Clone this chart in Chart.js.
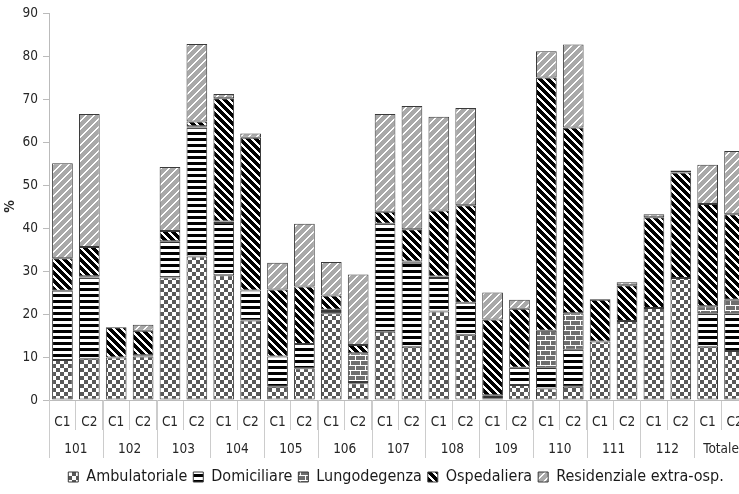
<!DOCTYPE html>
<html>
<head>
<meta charset="utf-8">
<script src="https://cdn.jsdelivr.net/npm/chart.js@4"></script>
<style>
  html, body { margin: 0; padding: 0; background: #fff; overflow: hidden; }
  #wrap { width: 739px; height: 494px; overflow: hidden; }
</style>
</head>
<body>
<div id="wrap"><canvas id="chart" width="760" height="494"></canvas></div>
<script>
// categories
var groups = ['101', '102', '103', '104', '105', '106', '107', '108', '109', '110', '111', '112', 'Totale'];
var cycles = ['C1', 'C2'];
var yTicks = [0, 10, 20, 30, 40, 50, 60, 70, 80, 90];

// series values (%), one per bar: 101 C1, 101 C2, 102 C1, ...
var ambulatoriale = [9.3, 9.6, 9.9, 10.1, 28.5, 33.4, 29.0, 18.5, 3.1, 7.4, 20.2, 3.9, 15.9, 12.4, 20.6, 15.2, 0.3, 3.5, 2.7, 3.1, 13.6, 18.4, 21.4, 28.4, 12.4, 11.4];
var domiciliare   = [16.1, 18.9, 0, 0.3, 8.4, 30.0, 12.2, 7.0, 7.0, 5.6, 0.5, 0.3, 25.1, 19.5, 7.8, 7.4, 0.8, 4.0, 4.9, 8.6, 0, 0, 0, 0, 7.8, 8.8];
var lungodegenza  = [0, 0.3, 0, 0, 0, 0.3, 0.3, 0, 0, 0, 0.3, 6.7, 0, 0.3, 0.3, 0, 0, 0, 8.5, 8.5, 0, 0, 0, 0, 1.6, 3.1];
var ospedaliera   = [7.6, 6.8, 7.0, 5.7, 2.4, 1.1, 28.7, 35.5, 15.6, 13.4, 3.3, 1.9, 2.8, 7.5, 15.4, 22.7, 17.6, 13.7, 58.9, 43.2, 9.7, 8.3, 21.1, 24.5, 23.8, 19.9];
var residenziale  = [22.1, 30.9, 0, 1.4, 14.9, 18.0, 1.0, 1.0, 6.2, 14.6, 7.8, 16.4, 22.7, 28.7, 21.8, 22.6, 6.3, 2.1, 6.1, 19.3, 0.2, 0.7, 0.7, 0.5, 9.1, 14.7];

var labels = [];
groups.forEach(function (g) { cycles.forEach(function (c) { labels.push(c); }); });

// pattern fills, built pixel by pixel on a small tile
function makePattern(w, h, fn) {
  var c = document.createElement('canvas');
  c.width = w; c.height = h;
  var x = c.getContext('2d');
  for (var j = 0; j < h; j++) {
    for (var i = 0; i < w; i++) {
      x.fillStyle = fn(i, j);
      x.fillRect(i, j, 1, 1);
    }
  }
  return x.createPattern(c, 'repeat');
}

var ctx = document.getElementById('chart').getContext('2d');

var pChecker = makePattern(8, 8, function (i, j) {
  return ((i < 4) === (j < 4)) ? '#595959' : '#ffffff';
});
var pStripes = makePattern(2, 6, function (i, j) {
  return j < 3 ? '#000000' : '#ffffff';
});
var pBrick = makePattern(10, 10, function (i, j) {
  if (j === 0 || j === 5) return '#ffffff';
  if (j < 5 && i === 0) return '#ffffff';
  if (j > 5 && i === 5) return '#ffffff';
  return '#6e6e6e';
});
var pHosp = makePattern(8, 8, function (i, j) {
  var d = ((i - j) % 8 + 8) % 8;
  return d < 3 ? '#ffffff' : '#000000';
});
var pRes = makePattern(8, 8, function (i, j) {
  var d = (i + j) % 8;
  return d < 2 ? '#ffffff' : '#a9a9a9';
});

function series(name, values, fill) {
  return {
    label: name,
    data: values.map(function (v) { return v === 0 ? null : v; }),
    backgroundColor: fill,
    borderColor: '#3a3a3a',
    borderWidth: 1,
    borderSkipped: false,
    barPercentage: 0.77,
    categoryPercentage: 1.0
  };
}

// group labels and long separators under the C1/C2 row
var groupAxis = {
  id: 'groupAxis',
  afterDraw: function (chart) {
    var x = chart.scales.x, c = chart.ctx;
    c.save();
    c.strokeStyle = '#cccccc';
    c.lineWidth = 1;
    for (var i = 0; i <= labels.length; i += 2) {
      var px = Math.round(x.getPixelForValue(i - 0.5)) + 0.5;
      c.beginPath();
      c.moveTo(px, x.top);
      c.lineTo(px, x.top + 58);
      c.stroke();
    }
    c.fillStyle = '#262626';
    c.font = "13.5px 'DejaVu Sans Condensed', 'DejaVu Sans', sans-serif";
    c.textAlign = 'center';
    c.textBaseline = 'middle';
    groups.forEach(function (g, k) {
      var px = x.getPixelForValue(2 * k + 0.5);
      c.fillText(g, px, x.top + 49);
    });
    c.restore();
  }
};

// nudge the legend to where the original sits
var legendShift = {
  id: 'legendShift',
  afterLayout: function (chart) {
    var l = chart.legend;
    l.left += 22; l.right += 22;
    l.top += 1; l.bottom += 1;
  }
};

Chart.defaults.font.family = "'DejaVu Sans Condensed', 'DejaVu Sans', sans-serif";
Chart.defaults.color = '#262626';

new Chart(ctx, {
  type: 'bar',
  data: {
    labels: labels,
    datasets: [
      series('Ambulatoriale', ambulatoriale, pChecker),
      series('Domiciliare', domiciliare, pStripes),
      series('Lungodegenza', lungodegenza, pBrick),
      series('Ospedaliera', ospedaliera, pHosp),
      series('Residenziale extra-osp.', residenziale, pRes)
    ]
  },
  options: {
    responsive: false,
    animation: false,
    layout: { padding: { top: 13, right: 12, left: 0, bottom: 0 } },
    plugins: {
      tooltip: { enabled: false },
      legend: {
        position: 'bottom',
        labels: {
          boxWidth: 10,
          boxHeight: 10,
          padding: 6,
          font: { size: 16 },
          color: '#1a1a1a'
        }
      }
    },
    scales: {
      x: {
        stacked: true,
        grid: { display: true, drawOnChartArea: false, offset: true, tickLength: 30, color: '#cccccc' },
        border: { display: true, color: '#bbbbbb' },
        ticks: { padding: -16, font: { size: 13.5 }, maxRotation: 0, autoSkip: false },
        afterFit: function (s) { s.height = 62; }
      },
      y: {
        stacked: true,
        min: 0,
        max: 90,
        afterBuildTicks: function (s) { s.ticks = yTicks.map(function (v) { return { value: v }; }); },
        grid: { display: true, drawOnChartArea: false, tickLength: 6, color: '#bbbbbb' },
        border: { display: true, color: '#bbbbbb' },
        ticks: { padding: 5, font: { size: 13.5 } },
        title: { display: true, text: '%', font: { size: 14, weight: 'bold' }, padding: { top: 2, bottom: 2 } },
        afterFit: function (s) { s.width = 49; }
      }
    }
  },
  plugins: [groupAxis, legendShift]
});
</script>
</body>
</html>
